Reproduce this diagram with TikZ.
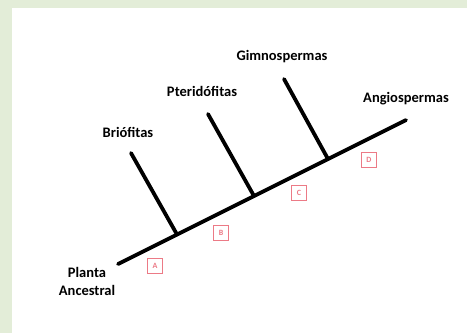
\documentclass[tikz,border=0pt]{standalone}
\usepackage{fontspec}
\setmainfont{Carlito}
\usetikzlibrary{positioning}
\definecolor{panelbg}{HTML}{E3EDD8}
\definecolor{markred}{HTML}{EC7A86}

\begin{document}
\begin{tikzpicture}[x=1pt,y=-1pt,
  taxon/.style={font=\bfseries\fontsize{14.5}{18}\selectfont,inner sep=0pt,align=center},
  markbox/.style={draw=markred,fill=white,line width=1.6pt,minimum size=15pt,inner sep=0pt,
                  font=\bfseries\fontsize{8}{9}\selectfont,text=markred},
  stem/.style={line width=3.8pt,line cap=round}]
  \useasboundingbox (0,0) rectangle (467,333);
  \fill[panelbg] (0,0) rectangle (467,333);
  \fill[white] (12,8) rectangle (467,333);

  \coordinate (root) at (118,264);
  \coordinate (tip) at (406,120);
  \coordinate (briBase) at (177,234.5);
  \coordinate (briTop) at (131,153);
  \coordinate (pteBase) at (254,196);
  \coordinate (pteTop) at (208,114);
  \coordinate (gimBase) at (328,159);
  \coordinate (gimTop) at (284,79);

  \draw[stem] (root) -- (tip);
  \draw[stem] (briBase) -- (briTop);
  \draw[stem] (pteBase) -- (pteTop);
  \draw[stem] (gimBase) -- (gimTop);

  \node[taxon] (bri) at (128,132) {Briófitas};
  \node[taxon] (pte) at (202,91) {Pteridófitas};
  \node[taxon] (gim) at (282,57) {Gimnospermas};
  \node[taxon] (ang) at (406,99) {Angiospermas};
  \node[taxon] (anc) at (87,281) {Planta\\Ancestral};

  \node[markbox] (mA) at (155,266) {A};
  \node[markbox] (mB) at (221,233) {B};
  \node[markbox] (mC) at (299,193) {C};
  \node[markbox] (mD) at (369,160) {D};
\end{tikzpicture}
\end{document}
